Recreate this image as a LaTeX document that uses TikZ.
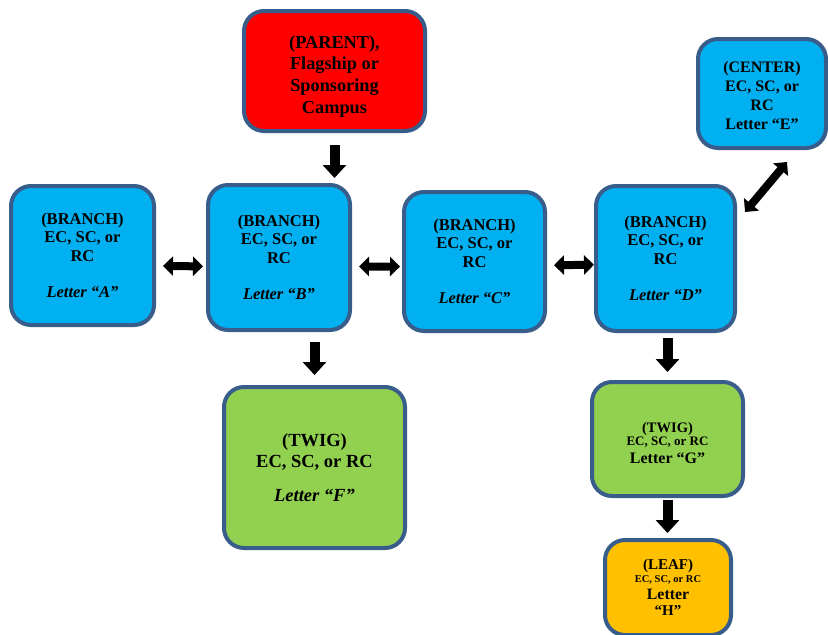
\documentclass[tikz,border=0pt]{standalone}
\usepackage{fontspec}
\setmainfont{Liberation Serif}
\usetikzlibrary{arrows.meta}
\definecolor{edgeblue}{RGB}{56,93,138}
\definecolor{branchblue}{RGB}{0,176,240}
\definecolor{twiggreen}{RGB}{146,208,80}
\definecolor{leaforange}{RGB}{255,192,0}
\definecolor{parentred}{RGB}{255,0,0}
\tikzset{
	campus/.style={draw=edgeblue, line width=4pt, rounded corners=20pt, align=center, inner sep=2pt},
	parentbox/.style={campus, fill=parentred, font=\bfseries\fontsize{18.3}{21.7}\selectfont},
	branchbox/.style={campus, fill=branchblue, font=\bfseries\fontsize{16.5}{18.5}\selectfont},
	centerbox/.style={campus, fill=branchblue, font=\bfseries\fontsize{16}{19}\selectfont},
	twigbox/.style={campus, fill=twiggreen, font=\bfseries\fontsize{18.5}{21}\selectfont},
	smalltwigbox/.style={campus, fill=twiggreen, font=\bfseries\fontsize{13}{13}\selectfont},
	leafbox/.style={campus, fill=leaforange, font=\bfseries\fontsize{15}{15}\selectfont},
	downarrow/.style={line width=10pt, -{Triangle[width=23pt,length=13pt]}},
	linkarrow/.style={line width=8pt, {Triangle[width=19pt,length=10pt]}-{Triangle[width=19pt,length=10pt]}}
}
\begin{document}
\begin{tikzpicture}[x=1pt,y=-1pt]
		\useasboundingbox (0,0) rectangle (828,635);
		\node[parentbox, minimum width=181pt, minimum height=120pt] (parent) at (334.5,71) {\rule{0pt}{23pt}(PARENT),\\Flagship or\\Sponsoring\\Campus};
		\node[branchbox, minimum width=143pt, minimum height=139pt] (a) at (82.5,255.5) {(BRANCH)\\EC, SC, or\\RC\\[18pt]\textit{Letter “A”}};
		\node[branchbox, minimum width=142pt, minimum height=145pt] (b) at (279,257.5) {(BRANCH)\\EC, SC, or\\RC\\[18pt]\textit{Letter “B”}};
		\node[branchbox, minimum width=141pt, minimum height=139pt] (c) at (474.5,261.5) {(BRANCH)\\EC, SC, or\\RC\\[18pt]\textit{Letter “C”}};
		\node[branchbox, minimum width=139pt, minimum height=145pt] (d) at (665.5,258.5) {(BRANCH)\\EC, SC, or\\RC\\[18pt]\textit{Letter “D”}};
		\node[centerbox, minimum width=128pt, minimum height=109pt] (e) at (762,93.5) {\rule{0pt}{15pt}(CENTER)\\EC, SC, or\\RC\\Letter “E”};
		\node[twigbox, minimum width=181pt, minimum height=161pt] (f) at (314.5,467.5) {(TWIG)\\EC, SC, or RC\\[13pt]\textit{Letter “F”}};
		\node[smalltwigbox, minimum width=151pt, minimum height=114pt] (g) at (667.5,439) {\rule{0pt}{18pt}{\fontsize{14.5}{16}\selectfont(TWIG)}\\EC, SC, or RC\\[5pt]{\fontsize{16}{17}\selectfont Letter “G”}};
		\node[leafbox, minimum width=126pt, minimum height=95pt] (h) at (668,587.5) {(LEAF)\\[-2pt]{\fontsize{10.5}{11}\selectfont EC, SC, or RC}\\[2pt]{\fontsize{15.8}{16}\selectfont Letter}\\[1pt]“H”};
		\coordinate (dlink) at (745,212);
		\coordinate (elink) at (787,162);
		\draw[downarrow, shorten <=12pt, shorten >=5pt] (parent.south) -- (parent.south |- b.north);
		\draw[downarrow, shorten <=10pt, shorten >=10pt] (f.north |- b.south) -- (f.north);
		\draw[downarrow, shorten <=5pt, shorten >=8pt] (g.north |- d.south) -- (g.north);
		\draw[downarrow, shorten <=2pt, shorten >=5pt] (g.south) -- (g.south |- h.north);
		\draw[linkarrow, shorten <=7pt, shorten >=3pt] (a.-8) -- (b.187);
		\draw[linkarrow, shorten <=7pt, shorten >=2pt] (b.-7) -- (c.184);
		\draw[linkarrow, shorten <=7pt] (c.-3) -- (d.185);
		\draw[linkarrow] (dlink) -- (elink);
		\end{tikzpicture}
\end{document}
